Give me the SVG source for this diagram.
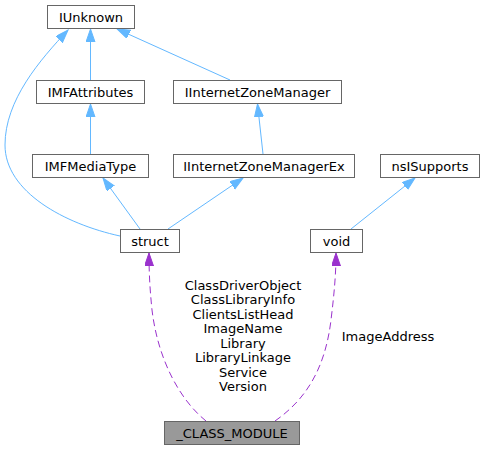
<svg xmlns="http://www.w3.org/2000/svg" width="484" height="451" viewBox="0 0 484 451">
<defs>
<style>
.node rect{fill:#fff;stroke:#666;stroke-width:1}
.node.main rect{fill:#999}
text{font-family:"DejaVu Sans","Liberation Sans",sans-serif;font-size:13px;fill:#000;text-anchor:middle}
.inh{fill:none;stroke:#63b8ff;stroke-width:1}
.use{fill:none;stroke:#9a32cd;stroke-width:1;stroke-dasharray:7,4}
.lbl{font-size:13px}
</style>
<marker id="ab" markerUnits="userSpaceOnUse" markerWidth="14" markerHeight="10" refX="13" refY="4.5" orient="auto"><path d="M0,0 L13,4.5 L0,9 z" fill="#63b8ff" stroke="#63b8ff"/></marker>
<marker id="ap" markerUnits="userSpaceOnUse" markerWidth="14" markerHeight="10" refX="13" refY="4.5" orient="auto"><path d="M0,0 L13,4.5 L0,9 z" fill="#9a32cd" stroke="#9a32cd"/></marker>
</defs>
<rect width="484" height="451" fill="#fff"/>
<g id="edges">
<path class="inh" d="M120,236 C65,224 5,192 5,145 C5,100 40,60 68,30" marker-end="url(#ab)"/>
<path class="inh" d="M90.5,154 L90.5,104" marker-end="url(#ab)"/>
<path class="inh" d="M90.5,80 L90.5,29" marker-end="url(#ab)"/>
<path class="inh" d="M230,80 L117,29" marker-end="url(#ab)"/>
<path class="inh" d="M263,154 L257.5,104" marker-end="url(#ab)"/>
<path class="inh" d="M140,229 L103,178" marker-end="url(#ab)"/>
<path class="inh" d="M168,229 L243,178" marker-end="url(#ab)"/>
<path class="inh" d="M351,229 L415,178" marker-end="url(#ab)"/>
<path class="use" d="M206,421 C180,400 158,360 152,310 C150,290 149,275 149,253" marker-end="url(#ap)"/>
<path class="use" d="M275,421 C305,400 325,370 331,320 C334,295 336,275 336,253" marker-end="url(#ap)"/>
<text class="lbl" x="243" y="289.5">ClassDriverObject</text>
<text class="lbl" x="243" y="304">ClassLibraryInfo</text>
<text class="lbl" x="243" y="318.5">ClientsListHead</text>
<text class="lbl" x="243" y="333">ImageName</text>
<text class="lbl" x="243" y="347.5">Library</text>
<text class="lbl" x="243" y="362">LibraryLinkage</text>
<text class="lbl" x="243" y="376.5">Service</text>
<text class="lbl" x="243" y="391">Version</text>
<text class="lbl" x="388" y="341">ImageAddress</text>
</g>
<g id="IUnknown" class="node"><rect x="47.5" y="5.5" width="87" height="23"/><text x="91" y="21.5">IUnknown</text></g>
<g id="IMFAttributes" class="node"><rect x="36.5" y="80.5" width="108" height="23"/><text x="90.5" y="96.5">IMFAttributes</text></g>
<g id="IInternetZoneManager" class="node"><rect x="173.5" y="80.5" width="168" height="23"/><text x="257.5" y="96.5">IInternetZoneManager</text></g>
<g id="IMFMediaType" class="node"><rect x="32.5" y="154.5" width="116" height="23"/><text x="90.5" y="170.5">IMFMediaType</text></g>
<g id="IInternetZoneManagerEx" class="node"><rect x="173.5" y="154.5" width="181" height="23"/><text x="264" y="170.5">IInternetZoneManagerEx</text></g>
<g id="nsISupports" class="node"><rect x="380.5" y="154.5" width="99" height="23"/><text x="430" y="170.5">nsISupports</text></g>
<g id="struct" class="node"><rect x="120.5" y="229.5" width="59" height="23"/><text x="150" y="245.5">struct</text></g>
<g id="void" class="node"><rect x="310.5" y="229.5" width="52" height="23"/><text x="336.5" y="245.5">void</text></g>
<g id="CLASS_MODULE" class="node main"><rect x="164.5" y="421.5" width="135" height="23"/><text x="232" y="437.5">_CLASS_MODULE</text></g>
</svg>
